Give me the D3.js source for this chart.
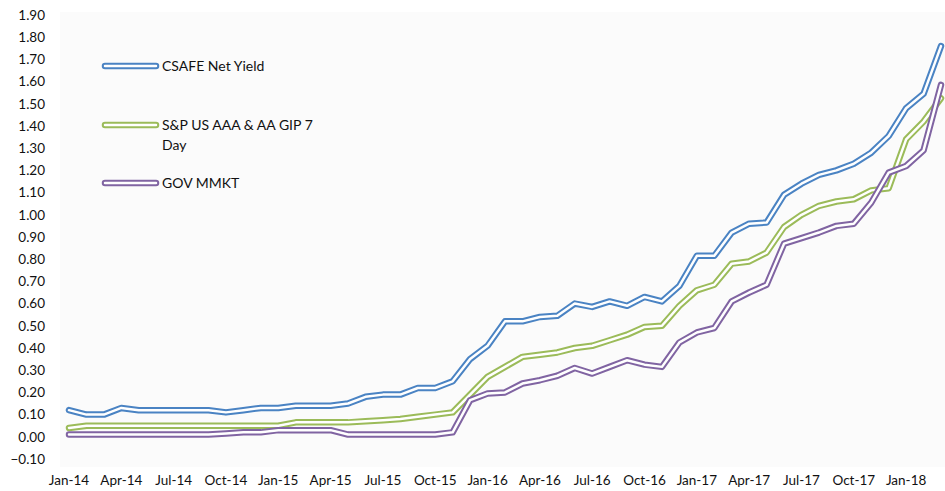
<!DOCTYPE html>
<html>
<head>
<meta charset="utf-8">
<script src="https://cdn.jsdelivr.net/npm/d3@7"></script>
<style>
  body { margin: 0; background: #fff; }
  svg { font-family: Lato, "Open Sans", sans-serif; }
</style>
</head>
<body>
<svg width="945" height="491"></svg>
<script>
// months Jan-14 .. Mar-18
var months = ["Jan-14","Feb-14","Mar-14","Apr-14","May-14","Jun-14","Jul-14","Aug-14","Sep-14","Oct-14","Nov-14","Dec-14",
              "Jan-15","Feb-15","Mar-15","Apr-15","May-15","Jun-15","Jul-15","Aug-15","Sep-15","Oct-15","Nov-15","Dec-15",
              "Jan-16","Feb-16","Mar-16","Apr-16","May-16","Jun-16","Jul-16","Aug-16","Sep-16","Oct-16","Nov-16","Dec-16",
              "Jan-17","Feb-17","Mar-17","Apr-17","May-17","Jun-17","Jul-17","Aug-17","Sep-17","Oct-17","Nov-17","Dec-17",
              "Jan-18","Feb-18","Mar-18"];

var csafe = [0.12,0.10,0.10,0.13,0.12,0.12,0.12,0.12,0.12,0.11,0.12,0.13,
             0.13,0.14,0.14,0.14,0.15,0.18,0.19,0.19,0.22,0.22,0.25,0.35,
             0.41,0.52,0.52,0.54,0.545,0.60,0.585,0.61,0.59,0.63,0.61,0.68,
             0.815,0.815,0.92,0.96,0.965,1.09,1.14,1.18,1.20,1.23,1.28,1.355,
             1.48,1.545,1.76];

var spGip = [0.04,0.05,0.05,0.05,0.05,0.05,0.05,0.05,0.05,0.05,0.05,0.05,
             0.05,0.065,0.065,0.065,0.065,0.07,0.075,0.08,0.09,0.10,0.11,0.19,
             0.27,0.315,0.36,0.37,0.38,0.40,0.41,0.435,0.46,0.495,0.50,0.59,
             0.66,0.685,0.78,0.79,0.83,0.945,1.00,1.04,1.06,1.07,1.11,1.12,
             1.34,1.42,1.525];

var govMmkt = [0.01,0.01,0.01,0.01,0.01,0.01,0.01,0.01,0.01,0.015,0.02,0.02,
               0.03,0.03,0.03,0.03,0.01,0.01,0.01,0.01,0.01,0.01,0.02,0.165,
               0.195,0.20,0.24,0.255,0.275,0.31,0.285,0.315,0.345,0.325,0.315,0.425,
               0.47,0.49,0.61,0.65,0.685,0.87,0.895,0.92,0.95,0.96,1.055,1.19,
               1.22,1.29,1.585];

var yTicks = d3.range(-0.1, 1.91, 0.1);

var series = [
    { name: ["CSAFE Net Yield"], values: csafe, color: "#4a83c3" },
    { name: ["S&P US AAA & AA GIP 7", "Day"], values: spGip, color: "#9bbb59" },
    { name: ["GOV MMKT"], values: govMmkt, color: "#8064a2" }
];

var svg = d3.select("svg");

var x = d3.scalePoint().domain(months).range([69, 941]);
var y = d3.scaleLinear().domain([-0.1, 1.9]).range([459, 15]);

// plot area background (faint)
svg.append("rect")
    .attr("x", 60).attr("y", 12)
    .attr("width", 885).attr("height", 455)
    .attr("fill", "#fbfbfb");

// y axis labels
svg.append("g")
    .selectAll("text")
    .data(yTicks)
    .enter().append("text")
    .attr("x", 45)
    .attr("y", function (d) { return y(d); })
    .attr("dy", "0.35em")
    .attr("text-anchor", "end")
    .attr("font-size", 13.5)
    .attr("fill", "#111")
    .text(function (d) { return d3.format(".2f")(Math.abs(d) < 1e-9 ? 0 : d); });

// x axis labels every 3 months
svg.append("g")
    .selectAll("text")
    .data(months.filter(function (d, i) { return i % 3 === 0; }))
    .enter().append("text")
    .attr("x", function (d) { return x(d); })
    .attr("y", 485)
    .attr("text-anchor", "middle")
    .attr("font-size", 13.5)
    .attr("fill", "#111")
    .text(function (d) { return d; });

var line = d3.line()
    .x(function (d, i) { return x(months[i]); })
    .y(function (d) { return y(d); });

// double-stroke lines
var lines = svg.append("g").selectAll("g")
    .data(series)
    .enter().append("g");

lines.append("path")
    .attr("d", function (d) { return line(d.values); })
    .attr("fill", "none")
    .attr("stroke", function (d) { return d.color; })
    .attr("stroke-width", 6.5)
    .attr("stroke-linejoin", "round")
    .attr("stroke-linecap", "round");

lines.append("path")
    .attr("d", function (d) { return line(d.values); })
    .attr("fill", "none")
    .attr("stroke", "#fff")
    .attr("stroke-width", 2.5)
    .attr("stroke-linejoin", "round")
    .attr("stroke-linecap", "round");

// legend
var legendY = [66, 125, 183];
var legend = svg.append("g").selectAll("g")
    .data(series)
    .enter().append("g")
    .attr("transform", function (d, i) { return "translate(0," + legendY[i] + ")"; });

legend.append("line")
    .attr("x1", 105).attr("x2", 156)
    .attr("stroke", function (d) { return d.color; })
    .attr("stroke-width", 6.5)
    .attr("stroke-linecap", "round");
legend.append("line")
    .attr("x1", 105).attr("x2", 156)
    .attr("stroke", "#fff")
    .attr("stroke-width", 2.5)
    .attr("stroke-linecap", "round");

legend.append("text")
    .attr("x", 162)
    .attr("font-size", 14)
    .attr("fill", "#111")
    .selectAll("tspan")
    .data(function (d) { return d.name; })
    .enter().append("tspan")
    .attr("x", 162)
    .attr("y", function (d, i) { return i * 20; })
    .attr("dy", "0.35em")
    .text(function (d) { return d; });
</script>
</body>
</html>
